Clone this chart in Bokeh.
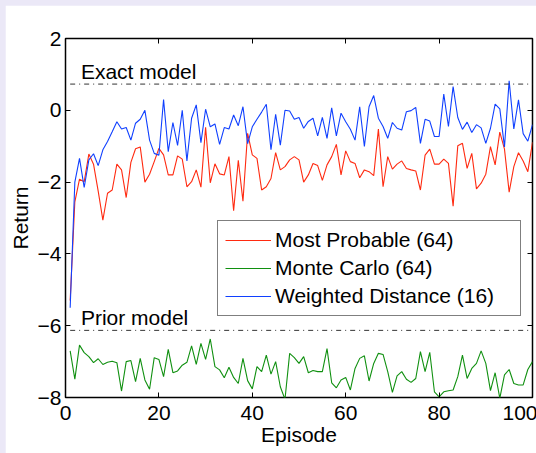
from bokeh.plotting import figure
from bokeh.models import LinearAxis, Range1d, FixedTicker, Legend, LegendItem, Label, CustomLabelingPolicy
from bokeh.layouts import column
from bokeh.embed import file_html
from bokeh.resources import INLINE

episodes = list(range(1, 101))

most_probable = [
    -5.3, -2.55, -1.92, -1.99, -1.22, -1.5, -2.25, -3.06, -2.31, -2.22,
    -1.5, -1.66, -2.43, -1.45, -1.07, -1.02, -2.0, -1.78, -1.43, -1.06,
    -1.24, -1.8, -1.8, -1.27, -1.36, -2.13, -1.99, -1.66, -2.14, -0.47,
    -2.02, -1.49, -1.77, -1.8, -1.29, -2.8, -1.39, -2.53, -0.64, -1.24,
    -1.34, -2.22, -2.13, -1.9, -1.18, -1.66, -1.57, -1.38, -1.29, -1.38,
    -2.0, -1.8, -1.48, -1.54, -1.95, -1.52, -1.29, -0.95, -1.8, -1.13,
    -1.43, -1.48, -1.88, -1.66, -1.71, -1.82, -0.52, -2.13, -1.29, -1.64,
    -1.5, -1.41, -1.62, -1.66, -1.69, -2.22, -1.25, -1.08, -1.5, -1.5,
    -1.36, -1.48, -2.67, -0.99, -0.92, -1.62, -1.2, -2.19, -2.03, -1.78,
    -1.01, -1.52, -0.61, -1.08, -2.28, -1.57, -1.18, -1.41, -1.71, -0.89,
]

monte_carlo = [
    -6.70, -7.49, -6.54, -6.75, -6.86, -7.03, -6.92, -7.08, -7.02, -6.99,
    -7.03, -7.82, -7.0, -6.97, -7.56, -6.91, -7.51, -7.77, -6.89, -6.94,
    -7.42, -6.66, -7.31, -7.26, -7.1, -7.02, -6.56, -7.08, -6.49, -6.94,
    -6.37, -7.14, -7.23, -7.45, -7.16, -7.44, -7.61, -6.91, -7.53, -7.76,
    -7.14, -7.28, -6.82, -7.35, -7.0, -7.7, -8.05, -6.77, -6.89, -7.05,
    -6.86, -7.31, -7.25, -7.28, -7.28, -6.64, -7.59, -7.73, -7.51, -7.44,
    -7.79, -7.19, -6.91, -6.84, -7.54, -7.05, -6.77, -6.8, -7.28, -7.86,
    -7.4, -7.28, -7.49, -7.58, -7.47, -6.72, -7.28, -6.74, -7.84, -7.98,
    -7.84, -7.81, -7.79, -7.42, -6.82, -7.47, -7.19, -7.05, -6.7, -7.05,
    -7.81, -7.31, -8.02, -7.37, -7.22, -7.61, -7.65, -7.65, -7.22, -7.0,
]

weighted_distance = [
    -5.5, -2.0, -1.34, -2.15, -1.38, -1.21, -1.54, -1.1, -0.87, -0.6,
    -0.32, -0.52, -0.48, -0.83, -0.36, -0.25, 0.0, -0.83, -1.2, -1.25,
    0.3, -1.15, -0.34, -0.98, 0.0, -1.41, -0.22, 0.15, -0.9, 0.03,
    -0.46, -0.38, -0.95, -0.48, -0.52, -0.13, -0.43, 0.1, -0.93, -0.46,
    -0.25, -0.05, 0.17, -1.1, -0.11, -0.97, 0.0, -0.02, -0.25, -0.2,
    -0.5, -0.31, -0.22, -0.71, -0.2, -0.78, 0.07, -0.71, -0.08, -0.32,
    -0.53, -0.83, 0.1, -1.01, 0.1, 0.41, -0.22, -0.45, -0.78, -0.34,
    -0.5, -0.55, -0.04, -0.01, 0.08, -0.92, -0.25, -0.3, -0.73, -0.73,
    0.45, -0.45, 0.66, -0.2, -0.53, -0.33, -0.62, -0.4, -0.49, -0.92,
    -0.5, 0.17, 0.04, -1.02, 0.82, -0.52, 0.29, -0.65, -0.86, -0.4,
]

exact_model = 0.73
prior_model = -6.13

series_names = ["Most Probable (64)", "Monte Carlo (64)", "Weighted Distance (16)"]
ref_names = ["Exact model", "Prior model"]
x_ticks = [0, 20, 40, 60, 80, 100]
y_ticks = [-8, -6, -4, -2, 0, 2]
y_tick_labels = ["\u22128", "\u22126", "\u22124", "\u22122", "0", "2"]

FONT = "Liberation Sans"
FS = "21px"

p = figure(frame_width=467, frame_height=359, output_backend="svg", toolbar_location=None,
           x_range=Range1d(0, 100), y_range=Range1d(-8, 2),
           min_border_left=59, min_border_right=5, min_border_top=33, min_border_bottom=56,
           x_axis_label="Episode", y_axis_label="Return",
           margin=(5, 0, 0, 5), background_fill_color="white", border_fill_color="white")
p.xgrid.visible = False
p.ygrid.visible = False
p.outline_line_color = "black"
p.outline_line_width = 1.5

p.xaxis.ticker = FixedTicker(ticks=x_ticks)
p.yaxis.ticker = FixedTicker(ticks=y_ticks)
p.yaxis.major_label_overrides = {float(t): s for t, s in zip(y_ticks, y_tick_labels)}

for ax in [p.xaxis[0], p.yaxis[0]]:
    ax.major_tick_in = 5
    ax.major_tick_out = 0
    ax.minor_tick_line_color = None
    ax.axis_line_color = None
    ax.major_tick_line_color = "black"
    ax.major_label_text_font = FONT
    ax.major_label_text_font_size = FS
    ax.major_label_text_color = "black"
    ax.axis_label_text_font = FONT
    ax.axis_label_text_font_size = FS
    ax.axis_label_text_font_style = "normal"
    ax.axis_label_text_color = "black"
p.xaxis.major_label_standoff = 8
p.xaxis.axis_label_standoff = 0
p.yaxis.major_label_standoff = 4
p.yaxis.axis_label_standoff = 3

no_labels = CustomLabelingPolicy(code="for (const i of indices) indices.unset(i); return indices")
for loc, ticks in [("above", x_ticks), ("right", y_ticks)]:
    ax = LinearAxis(ticker=FixedTicker(ticks=ticks), major_tick_in=5, major_tick_out=0,
                    minor_tick_line_color=None, axis_line_color=None,
                    major_label_policy=no_labels, major_label_standoff=0,
                    major_label_text_font_size="0px")
    p.add_layout(ax, loc)

r1 = p.line(episodes, most_probable, line_color="#ff2a10", line_width=1.1)
r2 = p.line(episodes, monte_carlo, line_color="#109010", line_width=1.1)
r3 = p.line(episodes, weighted_distance, line_color="#1040ff", line_width=1.1)

p.line([1, 100], [exact_model, exact_model], line_color="#333333", line_dash="5 4 1 4", line_width=1)
p.line([1, 100], [prior_model, prior_model], line_color="#333333", line_dash="5 4 1 4", line_width=1)

for name, yv in zip(ref_names, [exact_model, prior_model]):
    p.add_layout(Label(x=3.3, y=yv + 12.5 / 35.9, text=name, text_font=FONT, text_font_size=FS,
                       text_color="black", text_baseline="alphabetic"))

legend = Legend(items=[LegendItem(label=n, renderers=[r]) for n, r in zip(series_names, [r1, r2, r3])],
                location=(152, 81), border_line_color="black", border_line_width=1.5,
                background_fill_color="white", background_fill_alpha=1.0,
                label_text_font=FONT, label_text_font_size=FS, label_text_color="black",
                glyph_width=46, glyph_height=22, label_standoff=4, padding=7, spacing=4,
                label_height=22, label_width=238, margin=0)
p.add_layout(legend)

layout = column(p, width=536, height=453,
                styles={"background-color": "#ebe8f7", "overflow": "hidden"})

open("out.html", "w").write(file_html(layout, INLINE))
